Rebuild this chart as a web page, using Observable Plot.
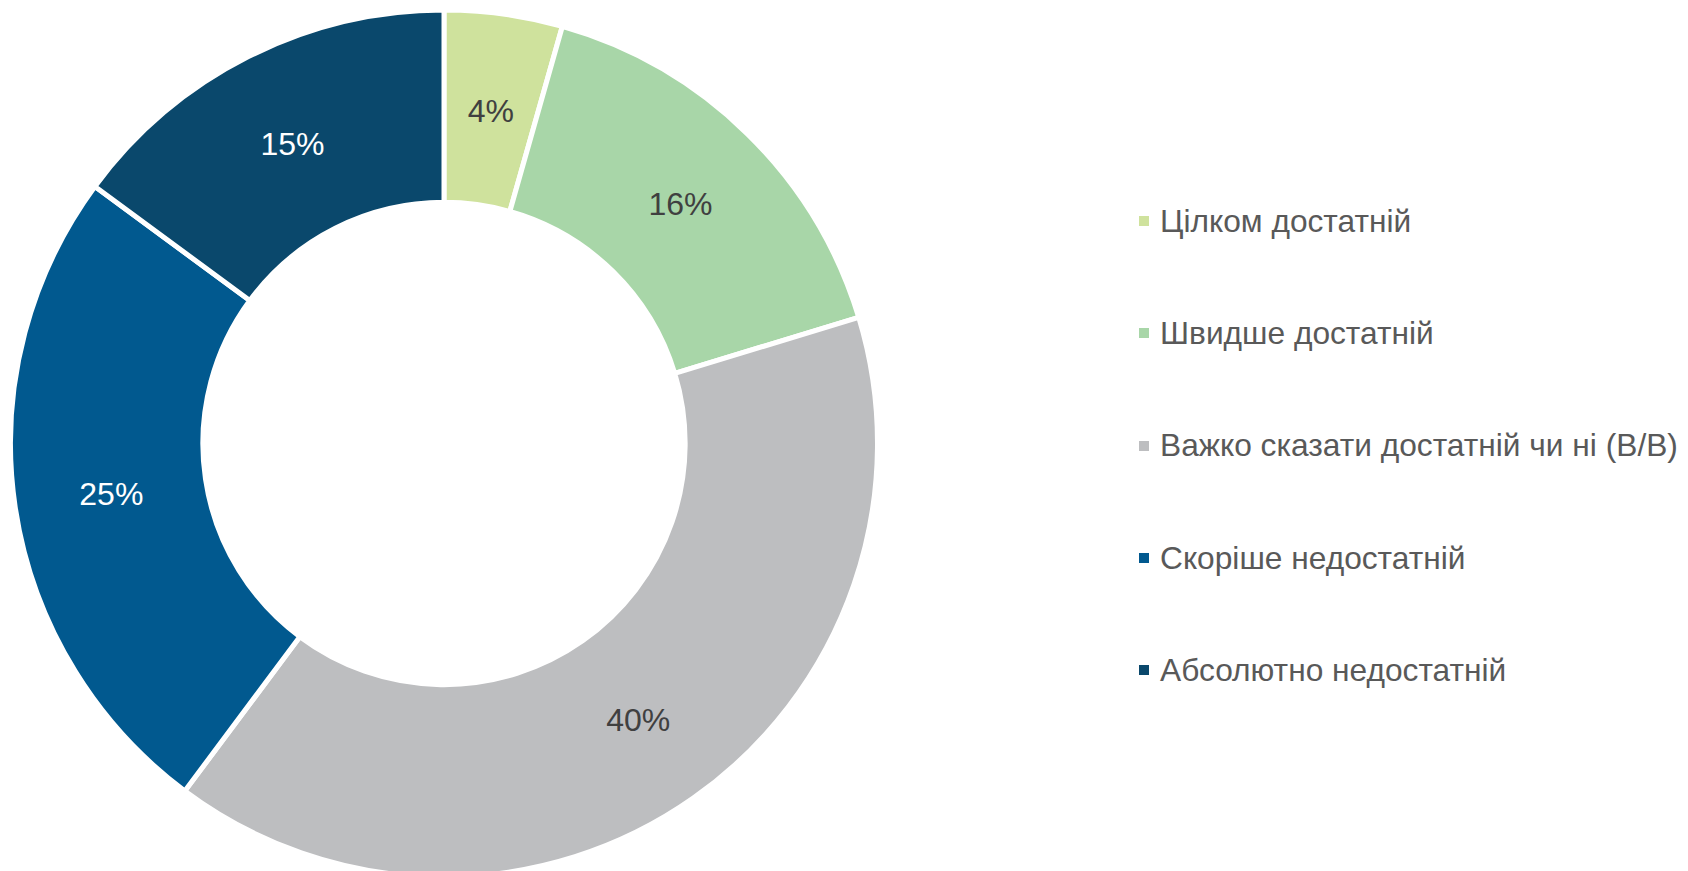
<!DOCTYPE html>
<html>
<head>
<meta charset="utf-8">
<script src="https://cdn.jsdelivr.net/npm/d3@7"></script>
<script src="https://cdn.jsdelivr.net/npm/@observablehq/plot@0.6"></script>
<style>
  html, body { margin: 0; padding: 0; background: #fff; }
  #wrap { position: relative; width: 1688px; height: 871px; overflow: hidden; }
  #legend { position: absolute; left: 1139px; top: 0; font-family: "Liberation Sans", Arial, sans-serif; font-size: 31.7px; color: #595959; }
  .row { position: absolute; left: 0; display: flex; align-items: center; white-space: nowrap; height: 40px; margin-top: -20px; }
  .sw { width: 10px; height: 10px; margin-right: 11px; flex: none; }
</style>
</head>
<body>
<div id="wrap"><div id="legend"></div></div>
<script>
const categories = ["Цілком достатній", "Швидше достатній", "Важко сказати достатній чи ні (В/В)", "Скоріше недостатній", "Абсолютно недостатній"];
const values = [4.4, 15.9, 39.9, 24.9, 14.9];
const labels = ["4%", "16%", "40%", "25%", "15%"];
const colors = ["#CFE29D", "#A8D6A8", "#BDBEC0", "#01598F", "#0A486C"];
const labelColors = ["#404040", "#404040", "#404040", "#ffffff", "#ffffff"];

const data = categories.map((c, i) => ({category: c, value: values[i], label: labels[i], color: colors[i], labelColor: labelColors[i]}));
const pie = d3.pie().sort(null).value(d => d.value)(data);
const innerFrac = 0.5563; // inner/outer radius
const labelFrac = 0.777;
pie.forEach(p => {
  const mid = (p.startAngle + p.endAngle) / 2;
  p.data.lx = Math.sin(mid) * labelFrac;
  p.data.ly = Math.cos(mid) * labelFrac;
});

const cx = 444, cy = 443.5, R = 433.5;

const donut = (index, scales, values, dimensions, context) => {
  const x0 = scales.x(0), y0 = scales.y(0);
  const rOut = scales.x(1) - x0;
  const arc = d3.arc().innerRadius(rOut * innerFrac).outerRadius(rOut);
  const g = d3.create("svg:g").attr("transform", `translate(${x0},${y0})`);
  g.selectAll("path").data(pie).join("path")
    .attr("d", arc)
    .attr("fill", d => d.data.color)
    .attr("stroke", "#fff")
    .attr("stroke-width", 5)
    .attr("stroke-linejoin", "miter");
  return g.node();
};

const chart = Plot.plot({
  width: 1688,
  height: 871,
  margin: 0,
  x: {domain: [-1, 1], range: [cx - R, cx + R], axis: null},
  y: {domain: [-1, 1], range: [cy + R, cy - R], axis: null},
  style: {fontFamily: "'Liberation Sans', Arial, sans-serif", background: "#fff"},
  marks: [
    donut,
    Plot.text(data, {x: "lx", y: "ly", text: "label", fill: "labelColor", fontSize: 32, dy: 1})
  ]
});
document.getElementById("wrap").prepend(chart);

const legend = document.getElementById("legend");
const rowY = [221, 333, 445.5, 558, 670];
categories.forEach((c, i) => {
  const row = document.createElement("div");
  row.className = "row";
  row.style.top = rowY[i] + "px";
  const sw = document.createElement("span");
  sw.className = "sw";
  sw.style.background = colors[i];
  const t = document.createElement("span");
  t.textContent = c;
  row.append(sw, t);
  legend.append(row);
});
</script>
</body>
</html>
